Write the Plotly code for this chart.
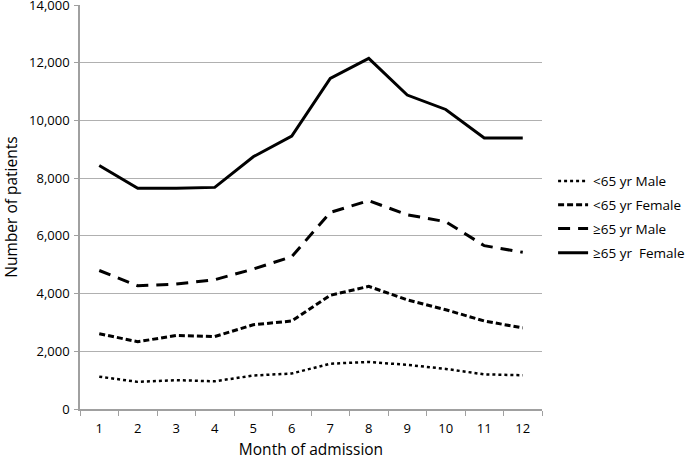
import plotly.graph_objects as go

months = [str(m) for m in range(1, 13)]
male_u65 = [1120, 940, 1000, 960, 1160, 1230, 1570, 1630, 1530, 1390, 1200, 1170]
female_u65 = [2610, 2330, 2550, 2510, 2920, 3050, 3940, 4250, 3780, 3440, 3050, 2810]
male_o65 = [4800, 4270, 4330, 4480, 4850, 5280, 6810, 7220, 6730, 6490, 5660, 5430]
female_o65 = [8440, 7650, 7650, 7680, 8740, 9460, 11460, 12150, 10880, 10380, 9390, 9390]
names = ["<65 yr Male", "<65 yr Female", "≥65 yr Male", "≥65 yr  Female"]
yticks = [0, 2000, 4000, 6000, 8000, 10000, 12000, 14000]

series = [male_u65, female_u65, male_o65, female_o65]
dashes = ["dot", "6px,3px", "12px,8px", "solid"]
widths = [2.5, 3, 3, 3]
legend_ids = ["legend", "legend2", "legend3", "legend4"]
legend_y = [0.564, 0.505, 0.446, 0.386]

fig = go.Figure()
for name, vals, d, w, lg in zip(names, series, dashes, widths, legend_ids):
    fig.add_trace(go.Scatter(x=months, y=vals, name=name, mode="lines", legend=lg,
                             line=dict(color="black", dash=d, width=w)))

font = "Open Sans, Noto Sans, sans-serif"
layout_legends = {}
for lg, ly in zip(legend_ids, legend_y):
    layout_legends[lg] = dict(x=1.024, y=ly, xanchor="left", yanchor="middle",
                              font=dict(size=13.5), itemwidth=30,
                              bgcolor="rgba(0,0,0,0)", borderwidth=0)

fig.update_layout(
    width=685, height=460,
    margin=dict(l=80, r=143, t=5, b=51, autoexpand=False),
    plot_bgcolor="white", paper_bgcolor="white",
    font=dict(family=font, size=13, color="black"),
    showlegend=True,
    xaxis=dict(type="category", range=[-0.5, 11.5], tickson="boundaries", ticks="outside", ticklen=5,
               tickcolor="#a0a0a0", showline=True, linecolor="#a0a0a0", linewidth=1.5,
               showgrid=False, automargin=False, ticklabelstandoff=7,
               title=dict(text="Month of admission", font=dict(size=15.5), standoff=8),
               tickfont=dict(size=13)),
    yaxis=dict(range=[0, 14000], tickvals=yticks, tickformat=",d", showline=True,
               linecolor="#a0a0a0", linewidth=1.5, gridcolor="#b0b0b0", gridwidth=1.2,
               ticks="outside", ticklen=4, tickcolor="#a0a0a0", zeroline=False,
               automargin=False, ticklabeloverflow="allow", ticklabelstandoff=2,
               title=dict(text="Number of patients", font=dict(size=15.5), standoff=8),
               tickfont=dict(size=13)),
    **layout_legends,
)
fig.write_html("out.html", config={"displayModeBar": False},
               post_script="document.body.style.margin='0px';document.body.style.overflow='hidden';")
